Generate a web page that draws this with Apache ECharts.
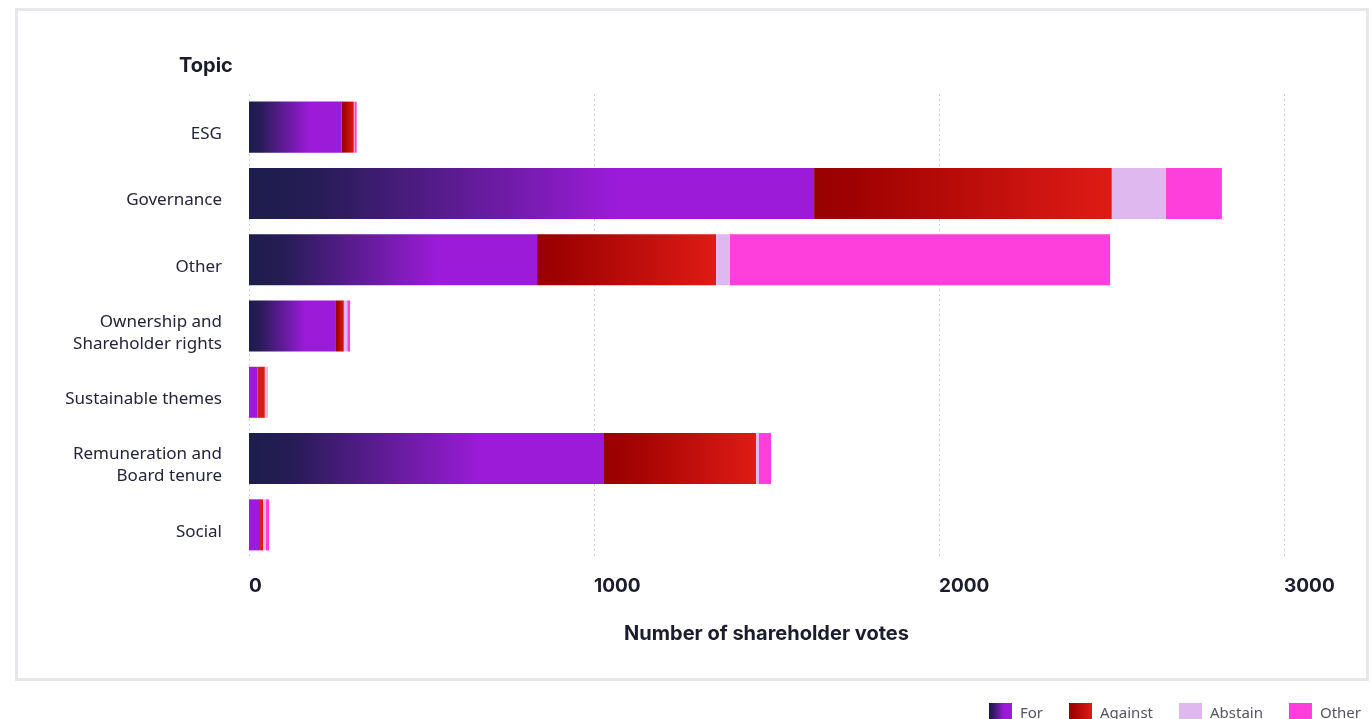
<!DOCTYPE html>
<html>
<head>
<meta charset="utf-8">
<script src="https://cdn.jsdelivr.net/npm/echarts@6/dist/echarts.min.js"></script>
<style>
  html, body { margin: 0; padding: 0; background: #ffffff; }
  #frame { position: absolute; left: 15px; top: 8px; width: 1348px; height: 667px; border: 3px solid #e7e7eb; box-sizing: content-box; }
  #chart { position: absolute; left: 0; top: 0; width: 1371px; height: 719px; }
</style>
</head>
<body>
<div id="frame"></div>
<div id="chart"></div>
<script>
const categories = ['ESG', 'Governance', 'Other', 'Ownership and\nShareholder rights', 'Sustainable themes', 'Remuneration and\nBoard tenure', 'Social'];
const seriesNames = ['For', 'Against', 'Abstain', 'Other'];
const forVotes     = [269, 1638, 835, 252, 25, 1029, 32];
const againstVotes = [35, 863, 519, 23, 21, 441, 9];
const abstainVotes = [2, 157, 40, 10, 9, 8, 8];
const otherVotes   = [6, 162, 1102, 8, 0, 35, 9];
const xTicks = [0, 1000, 2000, 3000];

const chart = echarts.init(document.getElementById('chart'), null, { renderer: 'canvas' });

const forGradient = new echarts.graphic.LinearGradient(0, 0, 1, 0, [
  { offset: 0, color: '#1e1d4c' },
  { offset: 0.12, color: '#261c56' },
  { offset: 0.65, color: '#9b1bd8' },
  { offset: 1, color: '#9b1bd8' }
]);
const againstGradient = new echarts.graphic.LinearGradient(0, 0, 1, 0, [
  { offset: 0, color: '#980000' },
  { offset: 0.15, color: '#a00202' },
  { offset: 1, color: '#df1b15' }
]);
const values = [forVotes, againstVotes, abstainVotes, otherVotes];
const totals = categories.map((_, i) => values.reduce((s, arr) => s + arr[i], 0));

function colorFor(gradient, solid) {
  return function (p) { return totals[p.dataIndex] < 100 ? solid : gradient; };
}
const colors = [
  colorFor(forGradient, '#9b1bd8'),
  colorFor(againstGradient, '#dc1a14'),
  '#e0b8f0',
  '#ff3fdb'
];
const legendColors = [forGradient, againstGradient, '#e0b8f0', '#ff3fdb'];

const series = seriesNames.map((name, i) => ({
  name: name,
  type: 'bar',
  stack: 'votes',
  barCategoryGap: '23%',
  itemStyle: { color: colors[i] },
  emphasis: { disabled: true },
  data: values[i]
}));

chart.setOption({
  animation: false,
  title: {
    text: 'Topic',
    left: 174,
    top: 51,
    textStyle: { fontFamily: 'Inter', fontWeight: 'bold', fontSize: 20, color: '#1c1c2c' }
  },
  legend: {
    data: seriesNames.map((n, i) => ({ name: n, itemStyle: { color: legendColors[i] } })),
    right: 5,
    top: 698,
    itemWidth: 23,
    itemHeight: 21,
    itemGap: 26,
    icon: 'rect',
    textStyle: { fontFamily: 'Noto Sans', fontSize: 15, color: '#555560', padding: [3, 0, 0, 3] }
  },
  grid: { left: 249, right: 87, top: 94, bottom: 161 },
  xAxis: {
    type: 'value',
    min: 0,
    max: 3000,
    interval: 1000,
    name: 'Number of shareholder votes',
    nameLocation: 'middle',
    nameGap: 66,
    nameTextStyle: { fontFamily: 'Inter', fontWeight: 'bold', fontSize: 20, color: '#1c1c2c' },
    axisLine: { show: false },
    axisTick: { show: false },
    axisLabel: {
      margin: 19,
      align: 'left',
      fontFamily: 'Inter',
      fontWeight: 'bold',
      fontSize: 19,
      color: '#1c1c2c',
      formatter: v => xTicks.includes(v) ? String(v) : ''
    },
    splitLine: { show: true, lineStyle: { type: [2, 3], color: '#cfcfd6', width: 1 } }
  },
  yAxis: {
    type: 'category',
    data: categories,
    inverse: true,
    axisLine: { show: false },
    axisTick: { show: false },
    axisLabel: {
      margin: 27,
      fontFamily: 'Noto Sans',
      fontSize: 17,
      lineHeight: 22,
      color: '#24243a',
      align: 'right',
      formatter: v => '{s|}\n' + v.split('\n').map(l => '{t|' + l + '}').join('\n'),
      rich: {
        s: { lineHeight: 14, fontSize: 1 },
        t: { fontFamily: 'Noto Sans', fontSize: 17, lineHeight: 22, color: '#24243a', align: 'right' }
      }
    }
  },
  series: series
});
</script>
</body>
</html>
